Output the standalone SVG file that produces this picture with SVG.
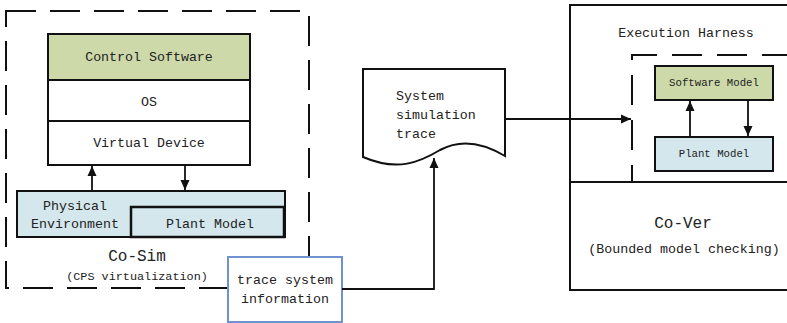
<svg xmlns="http://www.w3.org/2000/svg" width="787" height="323" viewBox="0 0 787 323">
  <style>
    text { font-family: "Liberation Mono", "DejaVu Sans Mono", monospace; fill: #222; text-anchor: middle; dominant-baseline: central; }
    .t13 { font-size: 13.3px; }
    .t11 { font-size: 10.7px; }
    .t12 { font-size: 11.8px; }
    .t16 { font-size: 16px; }
    .dash { fill: none; stroke: #111; stroke-width: 2; stroke-dasharray: 30 14; }
    .box { stroke: #111; stroke-width: 2; }
    .green { fill: #cdd9a9; }
    .blue { fill: #d3e7ed; }
    .white { fill: #fff; }
    .link { fill: none; stroke: #111; stroke-width: 1.8; }
  </style>
  <defs>
    <marker id="arrow" viewBox="0 0 10 10" refX="10" refY="5" markerWidth="10" markerHeight="10" markerUnits="userSpaceOnUse" orient="auto">
      <path d="M0,0.5 L10,5 L0,9.5 Z" fill="#111"/>
    </marker>
  </defs>

  <rect width="787" height="323" fill="#fff"/>

  <!-- Co-Sim container -->
  <g id="cosim">
    <rect class="dash" x="6" y="11" width="303" height="277"/>
    <text class="t16" x="137" y="257">Co-Sim</text>
    <text class="t12" x="137" y="277">(CPS virtualization)</text>
  </g>

  <!-- software stack -->
  <g id="control-software">
    <rect class="box green" x="48" y="34" width="202" height="46"/>
    <text class="t13" x="149" y="57">Control Software</text>
  </g>
  <g id="os">
    <rect class="box white" x="48" y="80" width="202" height="41"/>
    <text class="t13" x="149" y="102">OS</text>
  </g>
  <g id="virtual-device">
    <rect class="box white" x="48" y="121" width="202" height="44"/>
    <text class="t13" x="149" y="143">Virtual Device</text>
  </g>

  <!-- physical environment with embedded plant model -->
  <g id="physical-environment">
    <rect class="box blue" x="17" y="191" width="268" height="46"/>
    <text class="t13" x="75" y="206">Physical</text>
    <text class="t13" x="75" y="224">Environment</text>
  </g>
  <g id="plant-model">
    <rect class="blue" x="131" y="207" width="153" height="30" stroke="#111" stroke-width="2.5"/>
    <text class="t13" x="210" y="224">Plant Model</text>
  </g>

  <!-- trace system information -->
  <g id="trace-info">
    <rect x="228" y="257" width="114" height="65" fill="#fff" stroke="#6f93cf" stroke-width="2"/>
    <text class="t13" x="285" y="280">trace system</text>
    <text class="t13" x="285" y="299">information</text>
  </g>

  <!-- system simulation trace document -->
  <g id="sim-trace">
    <path d="M363,69 L505,69 L505,156 C485,144 462,138 440,150 C420,162 398,172 363,157 Z" fill="#fff" stroke="#111" stroke-width="2"/>
    <text class="t13" x="396" y="96" style="text-anchor:start">System</text>
    <text class="t13" x="396" y="115" style="text-anchor:start">simulation</text>
    <text class="t13" x="396" y="134" style="text-anchor:start">trace</text>
  </g>

  <!-- execution harness / Co-Ver -->
  <g id="execution-harness">
    <path d="M790,5 L570,5 L570,290 L790,290" fill="none" stroke="#111" stroke-width="2"/>
    <line x1="570" y1="182" x2="790" y2="182" stroke="#111" stroke-width="2"/>
    <text class="t13" x="686" y="33">Execution Harness</text>
  </g>
  <g id="harness-inner">
    <path class="dash" d="M800,55 L632,55 L632,182" style="stroke-dasharray:30 15; stroke-dashoffset:-8"/>
  </g>
  <g id="software-model">
    <rect class="box green" x="655" y="66" width="118" height="34"/>
    <text class="t11" x="714" y="83">Software Model</text>
  </g>
  <g id="harness-plant-model">
    <rect class="box blue" x="655" y="137" width="118" height="34"/>
    <text class="t11" x="714" y="154">Plant Model</text>
  </g>
  <g id="cover">
    <text class="t16" x="683" y="224">Co-Ver</text>
    <text class="t13" x="684" y="249">(Bounded model checking)</text>
  </g>

  <!-- connectors -->
  <g id="connectors">
    <line class="link" x1="92" y1="191" x2="92" y2="166" marker-end="url(#arrow)"/>
    <line class="link" x1="185" y1="165" x2="185" y2="190" marker-end="url(#arrow)"/>
    <polyline class="link" points="342,289 434,289 434,158" marker-end="url(#arrow)"/>
    <line class="link" x1="505" y1="119" x2="631" y2="119" marker-end="url(#arrow)"/>
    <line class="link" x1="690" y1="137" x2="690" y2="101" marker-end="url(#arrow)"/>
    <line class="link" x1="748" y1="100" x2="748" y2="136" marker-end="url(#arrow)"/>
  </g>
</svg>
